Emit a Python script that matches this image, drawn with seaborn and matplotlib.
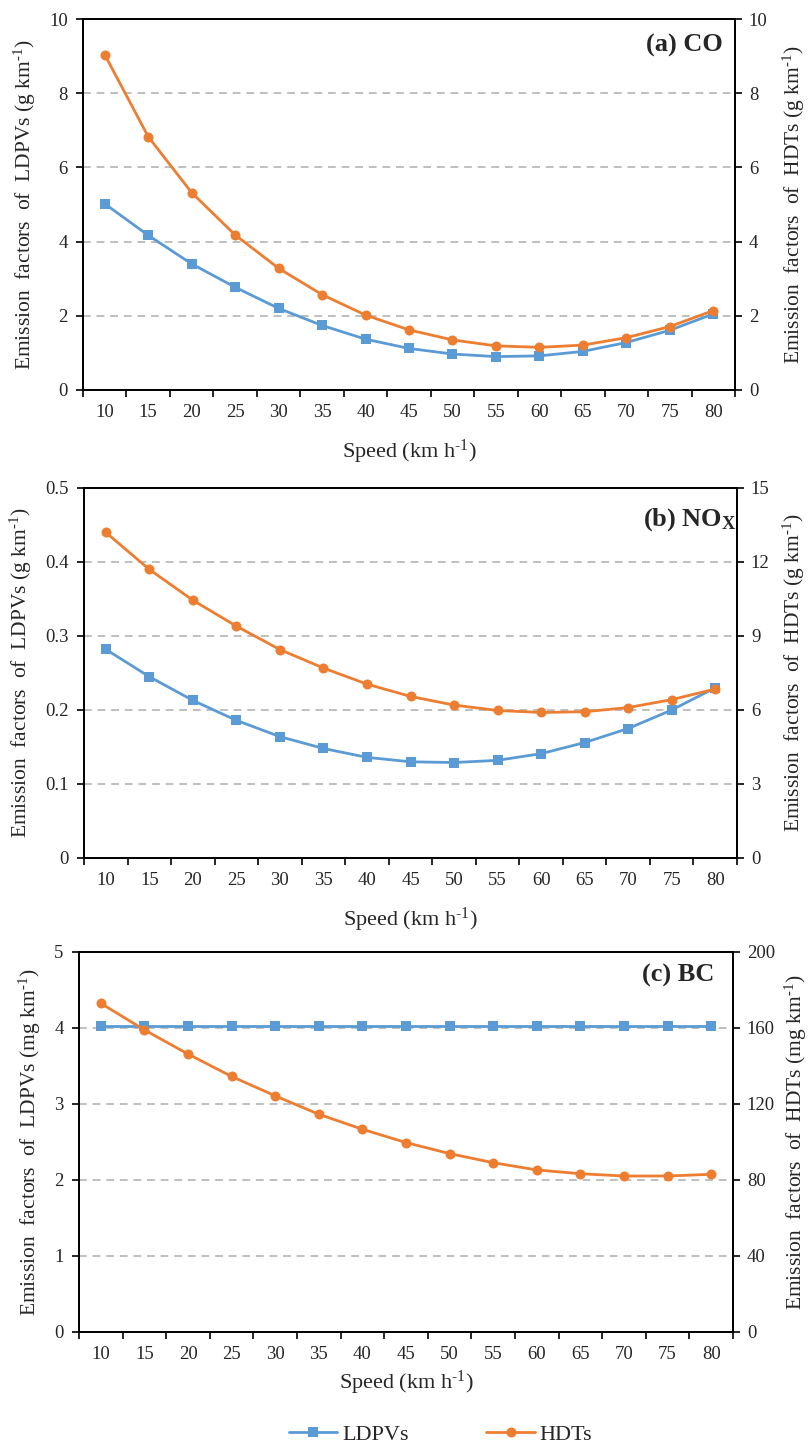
import numpy as np
import matplotlib
matplotlib.use("Agg")
import matplotlib.pyplot as plt
import seaborn as sns

# Vehicle speeds (km/h) and emission factors
speeds = [10, 15, 20, 25, 30, 35, 40, 45, 50, 55, 60, 65, 70, 75, 80]

co_ldpv = [5.02, 4.17, 3.40, 2.77, 2.20, 1.74, 1.37, 1.12, 0.97, 0.90, 0.92, 1.04, 1.28, 1.61, 2.05]
co_hdt = [9.04, 6.83, 5.32, 4.18, 3.28, 2.57, 2.02, 1.62, 1.35, 1.19, 1.15, 1.21, 1.41, 1.71, 2.14]

nox_ldpv = [0.282, 0.245, 0.213, 0.186, 0.164, 0.148, 0.136, 0.130, 0.129, 0.132, 0.141, 0.156, 0.175, 0.200, 0.230]
nox_hdt = [13.2, 11.7, 10.45, 9.4, 8.45, 7.7, 7.05, 6.55, 6.2, 5.98, 5.9, 5.93, 6.1, 6.42, 6.85]

bc_ldpv = [4.03] * 15
bc_hdt = [173.0, 159.0, 146.3, 134.5, 124.3, 114.6, 106.7, 99.7, 93.9, 89.1, 85.3, 83.3, 82.1, 82.1, 83.0]

SUP = r"$^{\text{-1}}$"
panel_titles = ["(a) CO", r"(b) NO$_\mathbf{X}$", "(c) BC"]
left_labels = ["Emission  factors  of  LDPVs (g km" + SUP + ")",
               "Emission  factors  of  LDPVs (g km" + SUP + ")",
               "Emission  factors  of  LDPVs (mg km" + SUP + ")"]
right_labels = ["Emission  factors  of  HDTs (g km" + SUP + ")",
                "Emission  factors  of  HDTs (g km" + SUP + ")",
                "Emission  factors  of  HDTs (mg km" + SUP + ")"]
left_ticks = [[0, 2, 4, 6, 8, 10], [0, 0.1, 0.2, 0.3, 0.4, 0.5], [0, 1, 2, 3, 4, 5]]
left_ticklabels = [["0", "2", "4", "6", "8", "10"],
                   ["0", "0.1", "0.2", "0.3", "0.4", "0.5"],
                   ["0", "1", "2", "3", "4", "5"]]
right_ticks = [[0, 2, 4, 6, 8, 10], [0, 3, 6, 9, 12, 15], [0, 40, 80, 120, 160, 200]]

BLUE = "#5B9BD5"
ORANGE = "#ED7D31"

sns.set_theme(style="white")
plt.rcParams["font.family"] = ["Liberation Serif", "DejaVu Serif"]
plt.rcParams["mathtext.fontset"] = "custom"
plt.rcParams["mathtext.rm"] = "Liberation Serif"
plt.rcParams["mathtext.bf"] = "Liberation Serif:bold"
plt.rcParams["mathtext.it"] = "Liberation Serif:italic"

fig = plt.figure(figsize=(8.08, 14.48), dpi=100)
W, H = 808.0, 1448.0
# axes boxes in pixel coordinates: left, right, top, bottom
boxes = [(83, 735, 19, 390), (84, 737, 488, 858), (79, 733, 952, 1332)]
title_pos = [(723, 45), (737, 520), (714, 975)]
right_label_x = [781, 781, 783]

ldpv_sets = [co_ldpv, nox_ldpv, bc_ldpv]
hdt_sets = [co_hdt, nox_hdt, bc_hdt]

pos = np.arange(len(speeds))
handles = None
for i in range(3):
    l, r, t, b = boxes[i]
    ax = fig.add_axes([l / W, 1 - b / H, (r - l) / W, (b - t) / H])
    ax2 = ax.twinx()

    sns.lineplot(x=pos, y=ldpv_sets[i], ax=ax, color=BLUE, marker="s",
                 markersize=6.8, markeredgewidth=0, linewidth=2.0, label="LDPVs")
    sns.lineplot(x=pos, y=hdt_sets[i], ax=ax2, color=ORANGE, marker="o",
                 markersize=7.2, markeredgewidth=0, linewidth=2.0, label="HDTs")
    if i == 0:
        h1, lb1 = ax.get_legend_handles_labels()
        h2, lb2 = ax2.get_legend_handles_labels()
        handles = (h1 + h2, lb1 + lb2)
    for a in (ax, ax2):
        if a.get_legend() is not None:
            a.get_legend().remove()

    ax.set_xlim(-0.5, len(speeds) - 0.5)
    ax.set_ylim(left_ticks[i][0], left_ticks[i][-1])
    ax2.set_ylim(right_ticks[i][0], right_ticks[i][-1])

    # category boundaries as major ticks, labels at category centres
    ax.set_xticks(np.arange(-0.5, len(speeds)))
    ax.set_xticklabels([])
    ax.set_xticks(pos, minor=True)
    ax.set_xticklabels([str(s) for s in speeds], minor=True, fontsize=13.5)
    ax.tick_params(axis="x", which="major", direction="out", length=5, width=1.2,
                   color="black", bottom=True)
    ax.tick_params(axis="x", which="minor", length=0, pad=10, bottom=True)

    ax.set_yticks(left_ticks[i])
    ax.set_yticklabels(left_ticklabels[i], fontsize=13.5)
    ax.tick_params(axis="y", direction="out", length=5, width=1.2, color="black",
                   left=True, pad=6)
    ax2.set_yticks(right_ticks[i])
    ax2.set_yticklabels([str(v) for v in right_ticks[i]], fontsize=13.5)
    ax2.tick_params(axis="y", direction="out", length=5, width=1.2, color="black",
                    right=True, pad=5)

    # dashed horizontal gridlines at interior ticks
    for v in left_ticks[i][1:-1]:
        ax.axhline(v, color="#BFBFBF", linestyle=(0, (4, 3)), linewidth=1.4, zorder=0)

    for a in (ax, ax2):
        for s in a.spines.values():
            s.set_color("black")
            s.set_linewidth(1.3)
        a.set_facecolor("none")

    ax.set_xlabel("Speed (km h" + SUP + ")", fontsize=16, labelpad=12 if i < 2 else 4)
    ax.set_ylabel(left_labels[i], fontsize=15.5, labelpad=8)
    ax2.set_ylabel(right_labels[i], fontsize=15.5)
    ax2.yaxis.set_label_coords((right_label_x[i] - l) / (r - l), 0.5)

    tx, ty = title_pos[i]
    fig.text(tx / W, 1 - ty / H, panel_titles[i], fontsize=19, fontweight="bold",
             ha="right", va="center")

fig.legend(handles[0], handles[1], loc="center", bbox_to_anchor=(0.545, 0.009),
           ncol=2, frameon=False, fontsize=16, handlelength=2.2,
           columnspacing=3.5, handletextpad=0.2)

fig.savefig("out.png", dpi=100)
